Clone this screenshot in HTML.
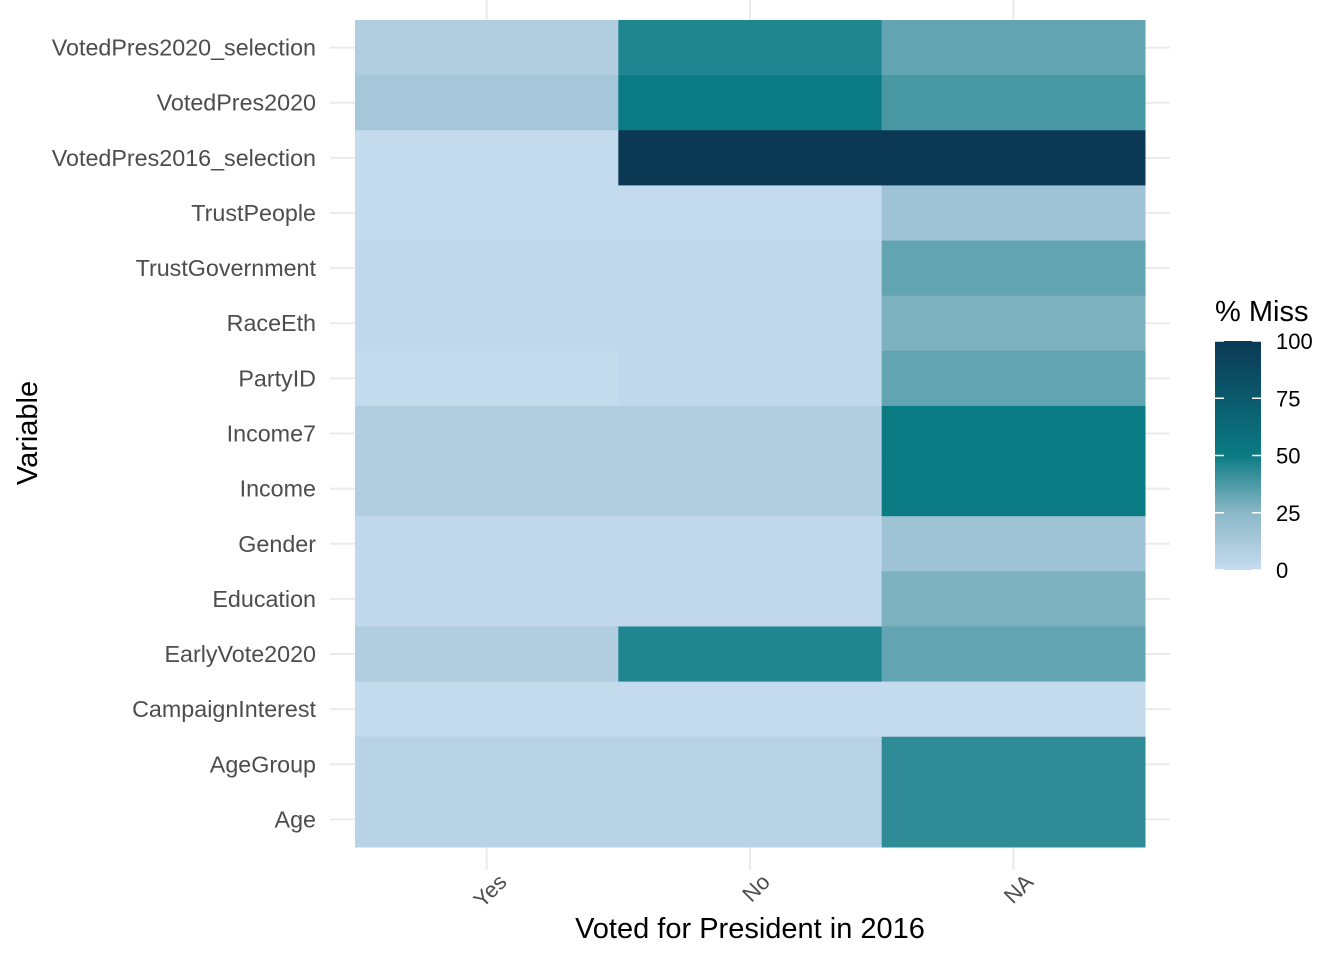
<!DOCTYPE html>
<html><head><meta charset="utf-8"><style>
body{margin:0;background:#fff;font-family:"Liberation Sans",sans-serif}
</style></head><body>
<svg id="chart" width="1344" height="960" xmlns="http://www.w3.org/2000/svg" font-family="Liberation Sans, sans-serif">
<defs><linearGradient id="lg" x1="0" y1="1" x2="0" y2="0">
<stop offset="0" stop-color="#c6dbef"/><stop offset="0.25" stop-color="#8bb8c7"/><stop offset="0.5" stop-color="#0b7b83"/><stop offset="1" stop-color="#0b3954"/></linearGradient></defs>
<g id="grid"></g><g id="cells"></g><g id="axes"></g>
<g>
<text x="1215" y="321" font-size="29" fill="#000">% Miss</text>
<rect x="1215" y="341" width="46" height="229" fill="url(#lg)"/>
<g id="legticks"></g>
</g>
<text x="750" y="938" font-size="29" text-anchor="middle" fill="#000">Voted for President in 2016</text>
<text transform="translate(37,433) rotate(-90)" font-size="29" text-anchor="middle" fill="#000">Variable</text>
</svg>
<script>
const categories=["Yes","No","NA"];
const variables=["VotedPres2020_selection","VotedPres2020","VotedPres2016_selection","TrustPeople","TrustGovernment","RaceEth","PartyID","Income7","Income","Gender","Education","EarlyVote2020","CampaignInterest","AgeGroup","Age"];
const valYes=[9,14,1,1,2,2,1,9,9,2,2,9,1,6,6];
const valNo=[46,50,100,1,2,2,2,9,9,2,2,46,1,6,6];
const valNA=[33,38,100,17,33,28,33,50,50,17,28,33,1,43,43];
const legendTicks=[0,25,50,75,100];
const NS="http://www.w3.org/2000/svg";
const x0=355,x1=1145,y0=20,y1=847;
const cw=(x1-x0)/categories.length, rh=(y1-y0)/variables.length;
const xC=i=>x0+cw*(i+0.5), yR=j=>y0+rh*j;
const stops=[[0,[198,219,239]],[25,[139,184,199]],[50,[11,123,131]],[100,[11,57,84]]];
function color(v){let k=0;while(k<stops.length-2&&v>stops[k+1][0])k++;const a=stops[k],b=stops[k+1];
const t=(v-a[0])/(b[0]-a[0]);const c=a[1].map((q,m)=>Math.round(q+(b[1][m]-q)*t));return `rgb(${c})`;}
function mk(tag,attrs,parent){const e=document.createElementNS(NS,tag);for(const k in attrs)e.setAttribute(k,attrs[k]);parent.appendChild(e);return e;}
const grid=document.getElementById('grid'),cells=document.getElementById('cells'),axes=document.getElementById('axes');
categories.forEach((c,i)=>{const l=mk('line',{x1:xC(i),x2:xC(i),y1:0,y2:870,stroke:'#ebebeb','stroke-width':2},grid);


const t=mk('text',{transform:`translate(${xC(i)+10},${872}) rotate(-45)`,'font-size':22,fill:'#4d4d4d','text-anchor':'end','dominant-baseline':'hanging'},axes);t.textContent=c;

});
const series=[valYes,valNo,valNA];
variables.forEach((v,j)=>{const cy=yR(j)+rh/2;
const l=mk('line',{x1:330,x2:1170,y1:cy,y2:cy,stroke:'#ebebeb','stroke-width':2},grid);


const t=mk('text',{x:316,y:cy+8,'font-size':23.3,fill:'#4d4d4d','text-anchor':'end'},axes);t.textContent=v;


series.forEach((s,i)=>{const r=mk('rect',{x:x0+cw*i,y:yR(j),width:cw+0.5,height:rh+0.5,fill:color(s[j])},cells);

});});
const lt=document.getElementById('legticks');
legendTicks.forEach(v=>{const y=570-229*v/100;
mk('line',{x1:1215,x2:1224,y1:y,y2:y,stroke:'#fff','stroke-width':1.5},lt);
mk('line',{x1:1252,x2:1261,y1:y,y2:y,stroke:'#fff','stroke-width':1.5},lt);
const t=mk('text',{x:1276,y:y+8,'font-size':22,fill:'#000'},lt);t.textContent=v;

});
</script>
</body></html>
